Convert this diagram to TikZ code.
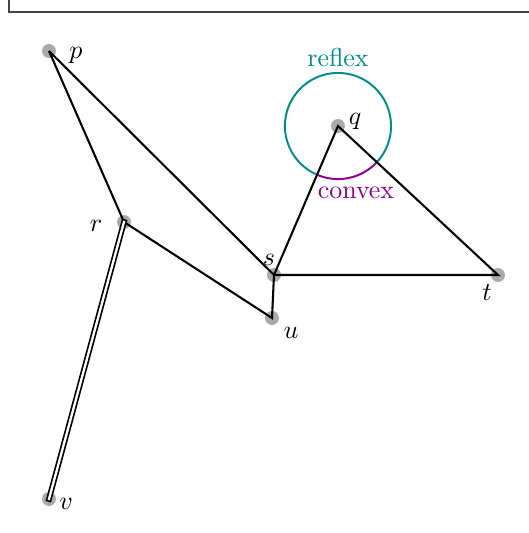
\documentclass[tikz,border=0pt]{standalone}
\usepackage{xcolor}
\usepackage{tikz}
\usetikzlibrary{positioning, calc}
\definecolor{dotgray}{HTML}{AAAAAA}
\definecolor{reflexteal}{HTML}{008B8B}
\definecolor{convexpurple}{HTML}{8B008B}
\definecolor{framegray}{HTML}{444444}

\tikzset{
  vtx/.style={circle, fill=dotgray, inner sep=0pt, minimum size=5.4pt},
  edge/.style={line width=0.8pt, line join=miter},
  twin/.style={double, line width=0.65pt, double distance=0.9pt, line cap=rect}
}

\begin{document}
\begin{tikzpicture}[x=0.01356cm, y=0.01356cm]
    \useasboundingbox (0,0) rectangle (529,533);
    \draw[framegray, line width=0.4pt] (9,533) -- (9,521) -- (529,521);

    % vertices
    \node[vtx] (p) at (49,482) {};
    \node[vtx] (q) at (338,407) {};
    \node[vtx] (r) at (124,311) {};
    \node[vtx] (s) at (274,258) {};
    \node[vtx] (t) at (498,258) {};
    \node[vtx] (u) at (272,215) {};
    \node[vtx] (v) at (49,34) {};

    % angle at q
    \draw[reflexteal, line width=0.75pt] (q.center) ++(317:0.72cm)
      arc[start angle=317, end angle=606.4, radius=0.72cm];
    \draw[convexpurple, line width=0.75pt] (q.center) ++(246.4:0.72cm)
      arc[start angle=246.4, end angle=317, radius=0.72cm];

    % polygon
    \draw[edge] (p.center) -- (r.center) -- (u.center) -- (s.center)
      -- (t.center) -- (q.center) -- (s.center) -- (p.center);
    \draw[twin] (v.center) -- (r.center);

    % labels
    \node (plab) at (76,478) {$p$};
    \node (qlab) at (355,412) {$q$};
    \node (rlab) at (96,307) {$r$};
    \node (slab) at (269,273) {$s$};
    \node (tlab) at (487,240) {$t$};
    \node (ulab) at (291,200) {$u$};
    \node (vlab) at (66,29) {$v$};
    \node[text=reflexteal] (reflex) at (338,475) {reflex};
    \node[text=convexpurple] (convex) at (356,340) {convex};
  \end{tikzpicture}
\end{document}
